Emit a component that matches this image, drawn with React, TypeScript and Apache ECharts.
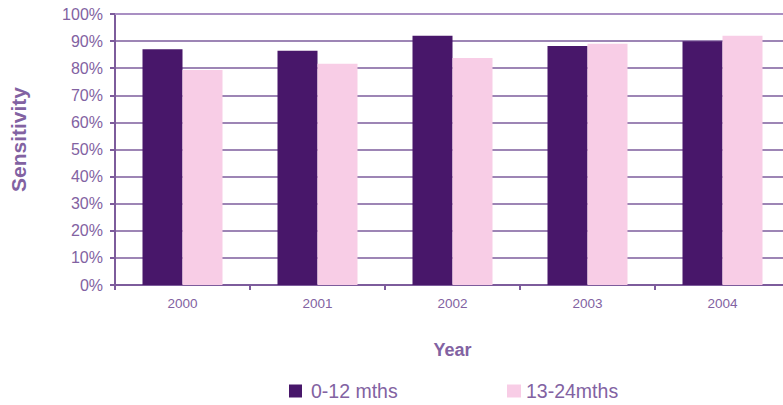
import React, { useEffect, useRef } from "react";
import * as echarts from "echarts";

const categories = ["2000", "2001", "2002", "2003", "2004"];
const series0to12 = [0.87, 0.864, 0.92, 0.882, 0.899];
const series13to24 = [0.793, 0.816, 0.838, 0.89, 0.92];
const seriesNames = ["0-12 mths", "13-24mths"];

const TXT = "#8262a2";
const GRID = "#7d5c9c";
const FONT = "Liberation Sans, Arial, sans-serif";

export default function App() {
  const ref = useRef<HTMLDivElement>(null);
  useEffect(() => {
    document.body.style.margin = "0";
    document.body.style.overflow = "hidden";
    if (!ref.current) return;
    const chart = echarts.init(ref.current, undefined, { renderer: "svg" });
    chart.setOption({
      animation: false,
      textStyle: { fontFamily: FONT },
      grid: { left: 112, top: 14, width: 678, height: 271, containLabel: false },
      legend: [
        {
          data: [seriesNames[0]],
          left: 284,
          top: 376,
          icon: "rect",
          itemWidth: 13,
          itemHeight: 13,
          textStyle: { color: TXT, fontSize: 19.5, fontFamily: FONT, padding: [0, 0, 0, 4] },
        },
        {
          data: [seriesNames[1]],
          left: 502,
          top: 376,
          icon: "rect",
          itemWidth: 14,
          itemHeight: 13,
          textStyle: { color: TXT, fontSize: 19.5, fontFamily: FONT, padding: [0, 0, 0, 0] },
        },
      ],
      xAxis: {
        type: "category",
        data: categories,
        name: "Year",
        nameLocation: "middle",
        nameGap: 56,
        nameTextStyle: { color: TXT, fontSize: 18, fontWeight: "bold", fontFamily: FONT },
        axisLine: { lineStyle: { color: GRID, width: 2 } },
        axisTick: { show: true, length: 5, lineStyle: { color: GRID, width: 2 } },
        axisLabel: { color: TXT, fontSize: 13.5, margin: 11, fontFamily: FONT },
      },
      yAxis: {
        type: "value",
        min: 0,
        max: 1,
        interval: 0.1,
        name: "Sensitivity",
        nameLocation: "middle",
        nameGap: 86,
        nameRotate: 90,
        nameTextStyle: {
          color: TXT,
          fontSize: 21,
          fontWeight: "bold",
          fontFamily: FONT,
          padding: [0, 0, 0, 20],
        },
        axisLine: { show: true, lineStyle: { color: GRID, width: 2 } },
        axisTick: { show: true, length: 5, lineStyle: { color: GRID, width: 2 } },
        axisLabel: {
          color: TXT,
          fontSize: 16,
          margin: 12,
          fontFamily: FONT,
          formatter: (v: number) => Math.round(v * 100) + "%",
        },
        splitLine: { show: true, lineStyle: { color: GRID, width: 1.5 } },
      },
      series: [
        {
          name: seriesNames[0],
          type: "bar",
          data: series0to12,
          barWidth: 40,
          barGap: "0%",
          itemStyle: { color: "#48176a" },
          markLine: {
            silent: true,
            symbol: "none",
            label: { show: false },
            lineStyle: { color: "#a98fc3", width: 2, type: "solid" },
            data: [{ yAxis: 1 }],
          },
        },
        {
          name: seriesNames[1],
          type: "bar",
          data: series13to24,
          barWidth: 40,
          barGap: "0%",
          itemStyle: { color: "#f8cde6" },
        },
      ],
    });
    return () => chart.dispose();
  }, []);
  return (
    <div style={{ width: 783, height: 405, overflow: "hidden" }}>
      <div ref={ref} style={{ width: 792, height: 405 }} />
    </div>
  );
}
